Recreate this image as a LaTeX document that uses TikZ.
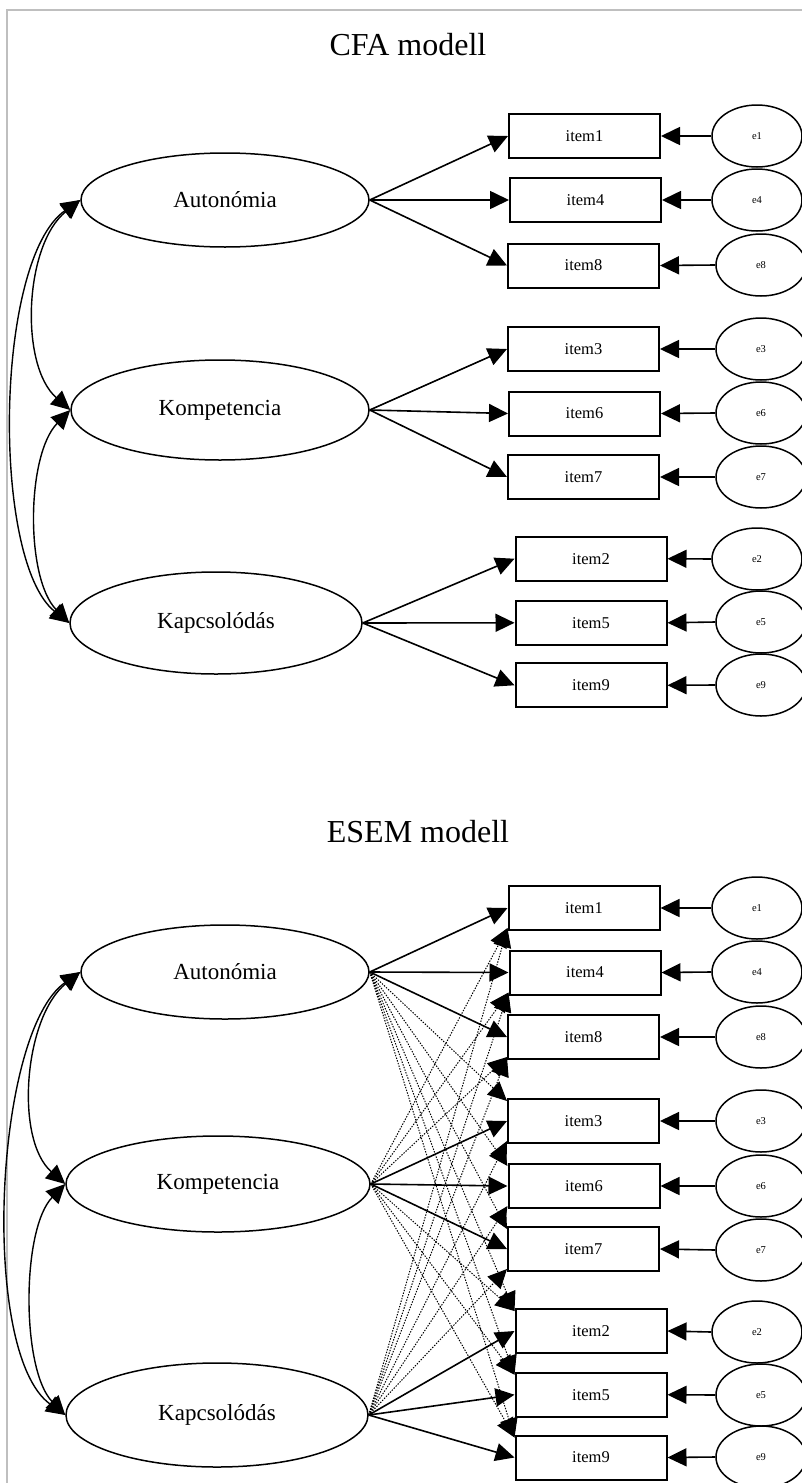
\documentclass[tikz,border=0pt]{standalone}
\usepackage{fontspec}
\setmainfont{Liberation Serif}
\usetikzlibrary{arrows.meta,shapes.geometric,calc}
\begin{document}
\begin{tikzpicture}[x=1pt,y=-1pt,
  latent/.style={ellipse,draw,line width=1.5pt,inner sep=0pt,
    font=\fontsize{23}{27}\selectfont},
  itembox/.style={rectangle,draw,line width=2pt,minimum width=151pt,
    minimum height=44pt,inner sep=0pt,font=\fontsize{16.5}{19}\selectfont},
  errnode/.style={ellipse,draw,line width=1.5pt,minimum width=90pt,
    minimum height=62pt,inner sep=0pt,font=\fontsize{10.5}{12}\selectfont},
  headtip/.tip={Triangle[length=19pt,width=18pt]},
  load/.style={-headtip,line width=1.6pt},
  cross/.style={-headtip,line width=1pt,dash pattern=on 1.4pt off 1.4pt},
  cov/.style={headtip-headtip,line width=1.4pt},
  heading/.style={font=\fontsize{32}{38}\selectfont,inner sep=0pt}
]
\useasboundingbox (0,0) rectangle (801,1483);
\fill[white] (0,0) rectangle (801,1483);
% frame
\draw[gray!50,line width=2pt] (7,1495) -- (7,9.5) -- (815,9.5);

% ---------------- CFA model ----------------
\node[heading,anchor=base] (cT) at (408,55) {CFA modell};

\node[latent,minimum width=288pt,minimum height=94pt]  (cA) at (225,200) {Autonómia};
\node[latent,minimum width=298pt,minimum height=100pt] (cK) at (220,410) {Kompetencia};
\node[latent,minimum width=292pt,minimum height=102pt] (cC) at (216,623) {Kapcsolódás};

\foreach \n/\x/\y in {1/584.5/136,4/585.5/200,8/583.5/265.5,
                      3/583.5/349,6/584.5/413.5,7/583.5/477,
                      2/591/558.7,5/591/622.8,9/591/685.3}
  \node[itembox] (cI\n) at (\x,\y) {item\n};

\foreach \n/\x/\y in {1/757/136,4/757/200,8/761/265,
                      3/761/349,6/761/413,7/761/477,
                      2/757/559,5/761/622,9/761/685}
  \node[errnode] (cE\n) at (\x,\y) {e\n};

\foreach \n in {1,4,8} \draw[load] (cA.east) -- (cI\n.west);
\foreach \n in {3,6,7} \draw[load] (cK.east) -- (cI\n.west);
\foreach \n in {2,5,9} \draw[load] (cC.east) -- (cI\n.west);
\foreach \n in {1,4,8,3,6,7,2,5,9} \draw[load] (cE\n.west) -- (cI\n.east);

\draw[cov] (cA.west) .. controls +(-56,45) and +(-51,-45) .. (cK.west);
\draw[cov] (cK.west) .. controls +(-44,45) and +(-44,-45) .. (cC.west);
\draw[cov] (cA.west) .. controls +(-86,60) and +(-78,-62) .. (cC.west);

% ---------------- ESEM model ----------------
\node[heading,anchor=base] (eT) at (418,842) {ESEM modell};

\node[latent,minimum width=288pt,minimum height=94pt]  (eA) at (225,972) {Autonómia};
\node[latent,minimum width=304pt,minimum height=96pt]  (eK) at (218,1184) {Kompetencia};
\node[latent,minimum width=302pt,minimum height=104pt] (eC) at (217,1415) {Kapcsolódás};

\foreach \n/\x/\y in {1/584/908,4/585/972.5,8/583.5/1037,
                      3/583.5/1121,6/584/1186,7/583.5/1249,
                      2/591/1331,5/591/1394.7,9/591/1457.5}
  \node[itembox] (eI\n) at (\x,\y) {item\n};

\foreach \n/\x/\y in {1/757/908,4/757/972,8/761/1037,
                      3/761/1121,6/761/1186,7/761/1250,
                      2/757/1332,5/761/1395,9/761/1457}
  \node[errnode] (eE\n) at (\x,\y) {e\n};

% cross-loadings
\foreach \n in {3,6,7,2,5,9}
  \draw[cross] (eA.east) -- ($(eI\n.north west)+(0,3)$);
\foreach \n in {1,4,8}
  \draw[cross] (eK.east) -- ($(eI\n.south west)+(0,-3)$);
\foreach \n in {2,5,9}
  \draw[cross] (eK.east) -- ($(eI\n.north west)+(0,3)$);
\foreach \n in {1,4,8,3,6,7}
  \draw[cross] (eC.east) -- ($(eI\n.south west)+(0,-3)$);

% main loadings
\foreach \n in {1,4,8} \draw[load] (eA.east) -- (eI\n.west);
\foreach \n in {3,6,7} \draw[load] (eK.east) -- (eI\n.west);
\foreach \n in {2,5,9} \draw[load] (eC.east) -- (eI\n.west);
\foreach \n in {1,4,8,3,6,7,2,5,9} \draw[load] (eE\n.west) -- (eI\n.east);

\draw[cov] (eA.west) .. controls +(-56,45) and +(-51,-45) .. (eK.west);
\draw[cov] (eK.west) .. controls +(-44,45) and +(-44,-45) .. (eC.west);
\draw[cov] (eA.west) .. controls +(-86,60) and +(-86,-62) .. (eC.west);
\end{tikzpicture}
\end{document}
